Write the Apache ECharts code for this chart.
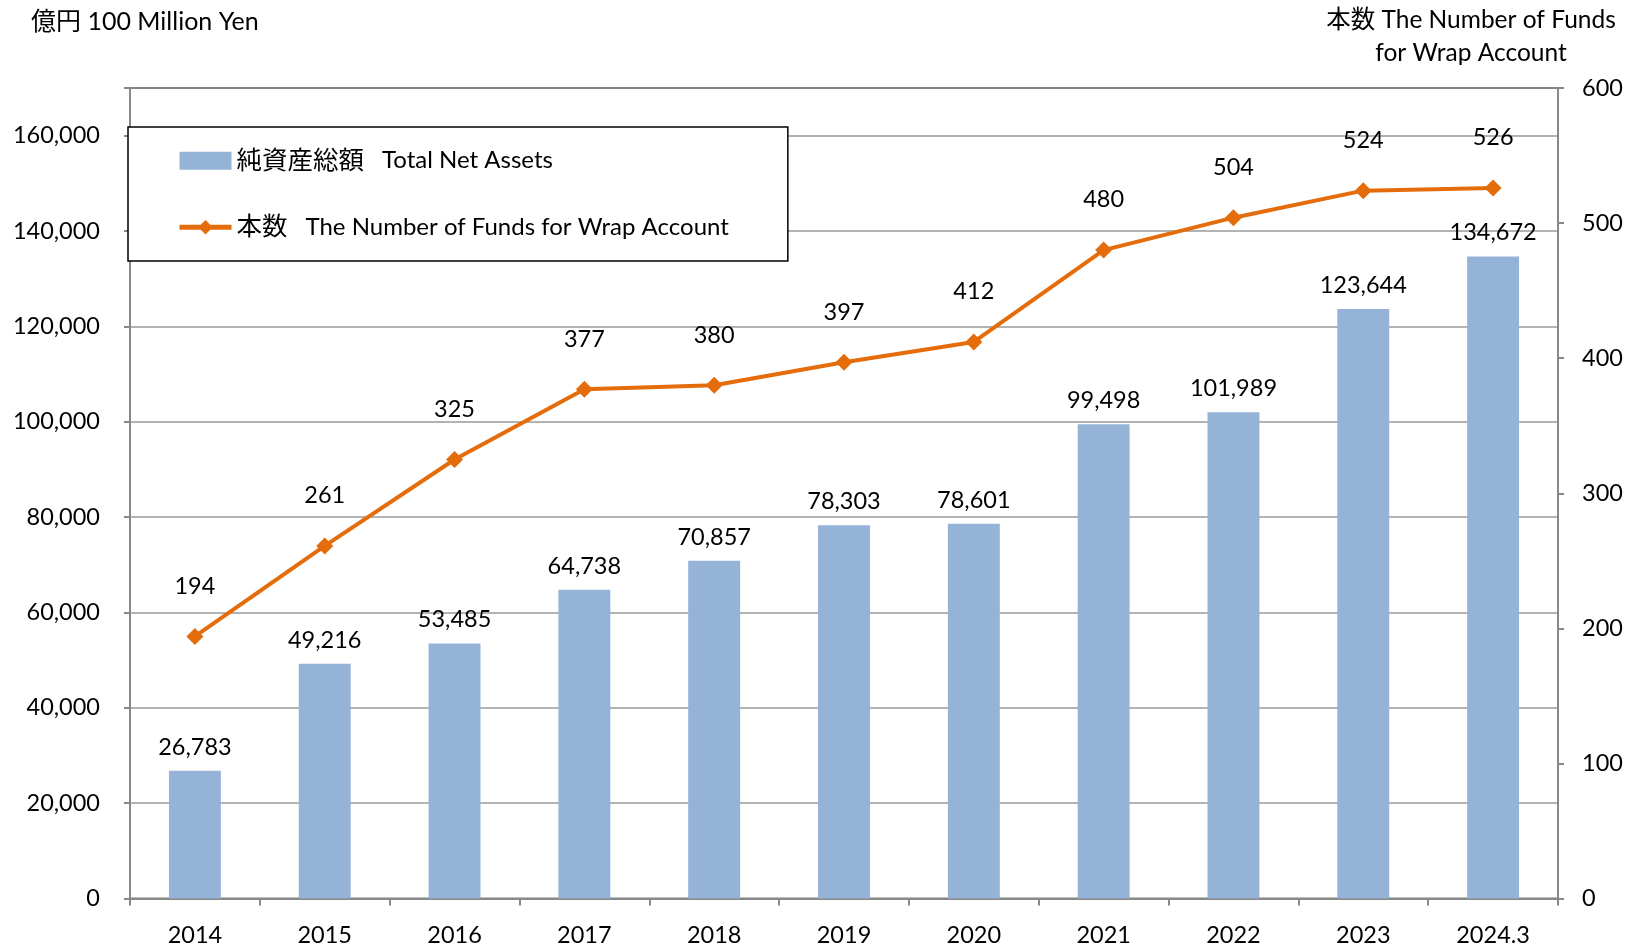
<!DOCTYPE html>
<html>
<head>
<meta charset="utf-8">
<script src="https://cdn.jsdelivr.net/npm/echarts@6/dist/echarts.min.js"></script>
<style>
  html, body { margin: 0; padding: 0; background: #fff; }
  #chart { width: 1636px; height: 947px; }
</style>
</head>
<body>
<div id="chart"></div>
<script>
const years = ['2014', '2015', '2016', '2017', '2018', '2019', '2020', '2021', '2022', '2023', '2024.3'];
const netAssets = [26783, 49216, 53485, 64738, 70857, 78303, 78601, 99498, 101989, 123644, 134672];
const fundCount = [194, 261, 325, 377, 380, 397, 412, 480, 504, 524, 526];

const FONT = 'Lato, "Noto Sans CJK JP", sans-serif';
const barName = '純資産総額　Total Net Assets';
const lineName = '本数　The Number of Funds for Wrap Account';
const ORANGE = '#E46C0A';

const myChart = echarts.init(document.getElementById('chart'));

// 凡例: 日本語部分は少し大きめ、英語との間に隙間
const legendFormatter = name => {
  const parts = name.split('　');
  return '{j|' + parts[0] + '}{e|' + parts[1] + '}';
};

const option = {
  backgroundColor: '#fff',
  textStyle: { fontFamily: FONT, color: '#000' },
  graphic: [
    {
      type: 'text', x: 31, y: 9,
      style: { text: '億円 100 Million Yen', font: '25px ' + FONT, fill: '#000' }
    },
    {
      type: 'text', x: 1471, y: 4,
      style: {
        text: '本数 The Number of Funds\nfor Wrap Account',
        font: '24.5px ' + FONT, fill: '#000', align: 'center', lineHeight: 33
      }
    }
  ],
  legend: {
    left: 128,
    top: 127,
    orient: 'vertical',
    backgroundColor: '#fff',
    borderColor: '#000',
    borderWidth: 1.5,
    padding: [21, 59, 21, 49],
    itemGap: 41,
    itemWidth: 52,
    itemHeight: 18,
    formatter: legendFormatter,
    textStyle: {
      fontFamily: FONT, color: '#000',
      rich: {
        j: { fontSize: 25.5, fontFamily: FONT, padding: [0, 18, 0, 0] },
        e: { fontSize: 24, fontFamily: FONT }
      }
    },
    data: [
      { name: barName, icon: 'rect' },
      { name: lineName, lineStyle: { width: 5 } }
    ]
  },
  grid: {
    left: 130,
    right: 78,
    top: 88,
    bottom: 48,
    show: true,
    borderColor: '#000',
    borderWidth: 1.5,
    containLabel: false
  },
  xAxis: {
    type: 'category',
    data: years,
    axisLine: { lineStyle: { color: '#888', width: 2 } },
    axisTick: { show: true, length: 7, lineStyle: { color: '#888', width: 2 } },
    axisLabel: { fontSize: 23.5, color: '#000', margin: 25, fontFamily: FONT }
  },
  yAxis: [
    {
      type: 'value',
      min: 0,
      max: 170000,
      interval: 20000,
      axisLine: { show: true, lineStyle: { color: '#888', width: 2 } },
      axisTick: { show: true, length: 6, lineStyle: { color: '#888', width: 2 } },
      axisLabel: {
        fontSize: 23.5, color: '#000', margin: 30, fontFamily: FONT,
        formatter: v => v > 160000 ? '' : v.toLocaleString('en-US')
      },
      splitLine: { show: true, lineStyle: { color: '#9a9a9a', width: 1.5 } }
    },
    {
      type: 'value',
      min: 0,
      max: 600,
      interval: 100,
      position: 'right',
      axisLine: { show: true, lineStyle: { color: '#888', width: 2 } },
      axisTick: { show: true, length: 6, lineStyle: { color: '#888', width: 2 } },
      axisLabel: { fontSize: 23.5, color: '#000', margin: 24, fontFamily: FONT },
      splitLine: { show: false }
    }
  ],
  series: [
    {
      name: barName,
      type: 'bar',
      yAxisIndex: 0,
      data: netAssets,
      barWidth: '40%',
      itemStyle: { color: '#95B3D7' },
      label: {
        show: true, position: 'top', distance: 12,
        fontSize: 23.5, color: '#000', fontFamily: FONT,
        formatter: p => p.value.toLocaleString('en-US')
      },
      z: 2
    },
    {
      name: lineName,
      type: 'line',
      yAxisIndex: 1,
      data: fundCount,
      symbol: 'diamond',
      symbolSize: 17,
      lineStyle: { color: ORANGE, width: 4 },
      itemStyle: { color: ORANGE },
      label: {
        show: true, position: 'top', distance: 30,
        fontSize: 23.5, color: '#000', fontFamily: FONT
      },
      z: 3
    }
  ]
};

myChart.setOption(option);
window.addEventListener('resize', () => myChart.resize());
</script>
</body>
</html>
